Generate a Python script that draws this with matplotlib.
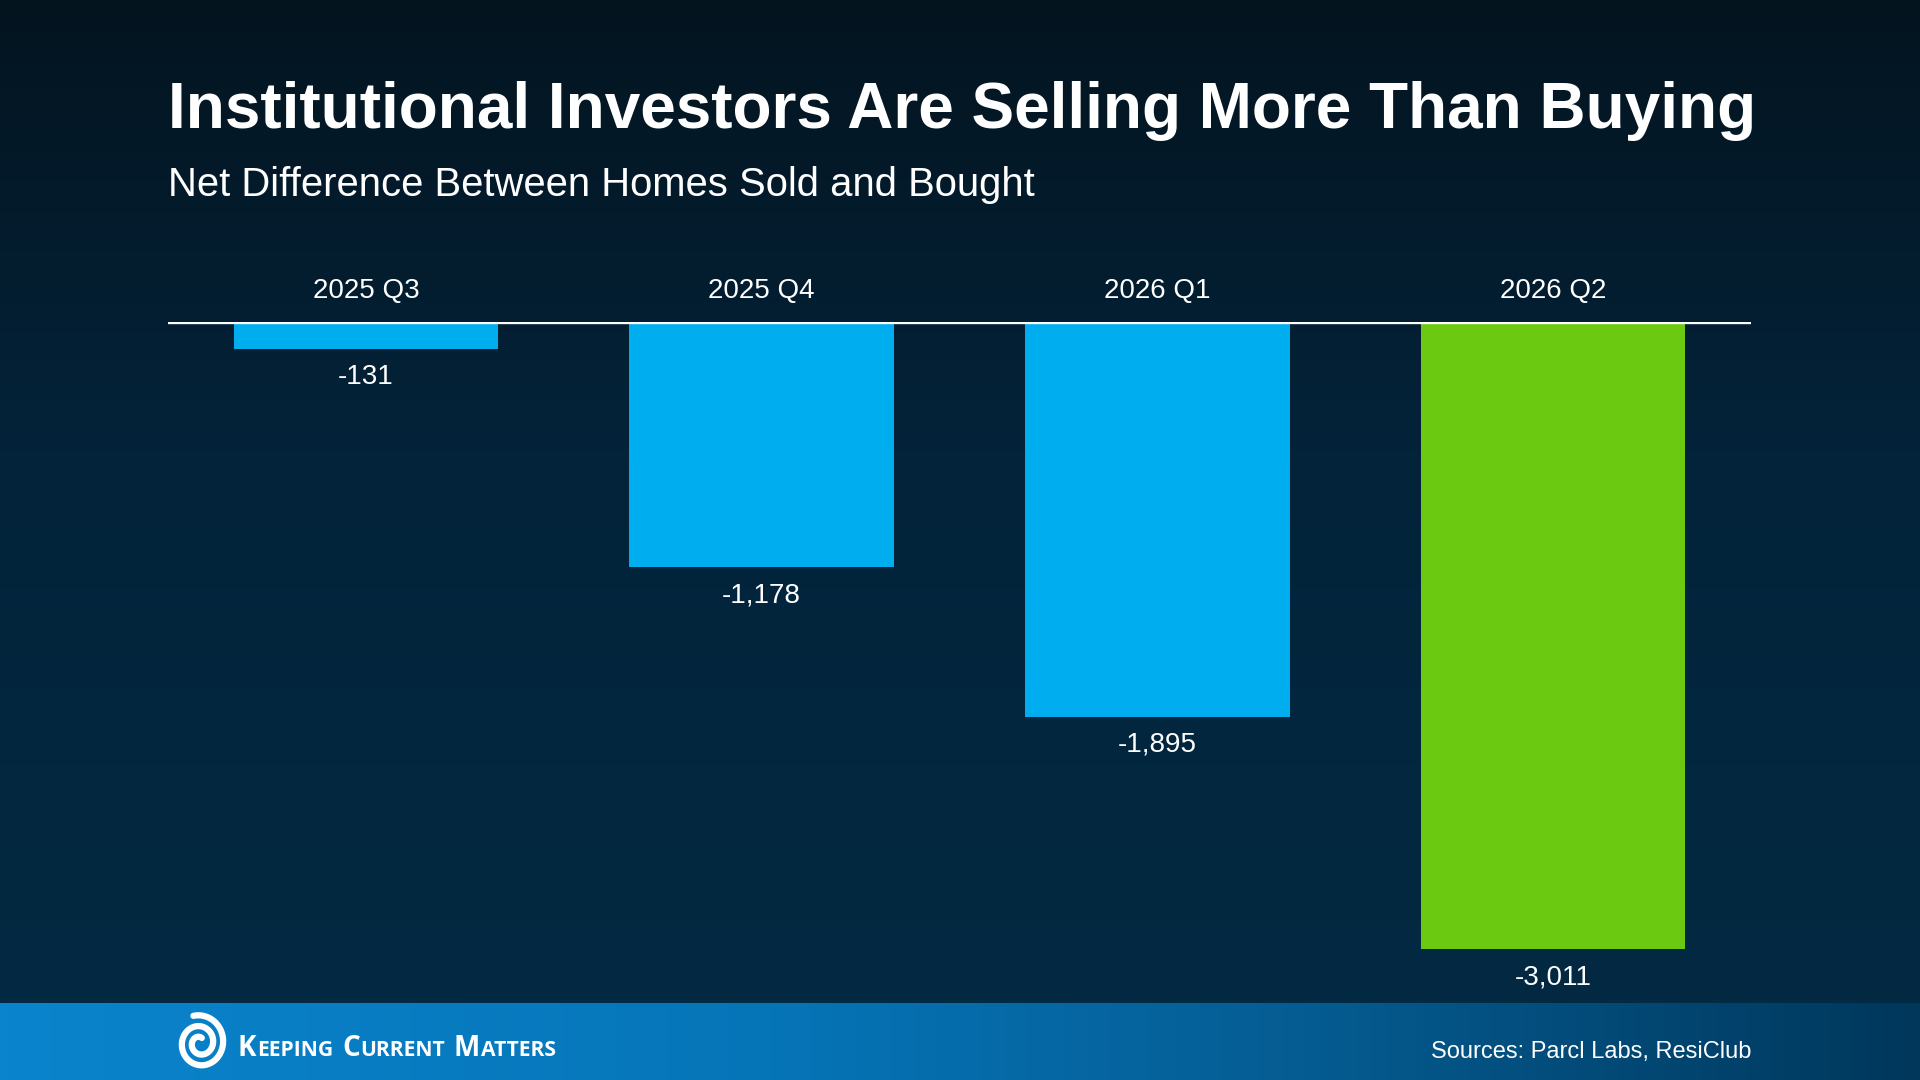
import numpy as np
import matplotlib.pyplot as plt
from matplotlib.colors import LinearSegmentedColormap

quarters = ["2025 Q3", "2025 Q4", "2026 Q1", "2026 Q2"]
net_homes = [-131, -1178, -1895, -3011]
bar_colors = ["#00aeef", "#00aeef", "#00aeef", "#6cc911"]

title = "Institutional Investors Are Selling More Than Buying"
subtitle = "Net Difference Between Homes Sold and Bought"
source = "Sources: Parcl Labs, ResiClub"
brand = [("K", "EEPING"), ("C", "URRENT"), ("M", "ATTERS")]

W, H = 1920, 1080
fig = plt.figure(figsize=(19.2, 10.8), dpi=100)
plt.rcParams["font.family"] = ["Liberation Sans", "DejaVu Sans"]

# background, pixel coordinates (y down)
bg = fig.add_axes([0, 0, 1, 1])
bg.set_xlim(0, W)
bg.set_ylim(H, 0)
bg.axis("off")

main_cmap = LinearSegmentedColormap.from_list(
    "main", [(0, "#04141f"), (0.45, "#03233a"), (1, "#022a42")])
grad = np.linspace(0, 1, 256).reshape(-1, 1)
bg.imshow(grad, cmap=main_cmap, aspect="auto", extent=(0, W, 1003, 0), zorder=0)

foot_cmap = LinearSegmentedColormap.from_list(
    "foot", [(0, "#0a84cc"), (0.4, "#0675b8"), (0.68, "#055c92"), (1, "#00375b")])
fgrad = np.linspace(0, 1, 256).reshape(1, -1)
bg.imshow(fgrad, cmap=foot_cmap, aspect="auto", extent=(0, W, H, 1003), zorder=0)

bg.text(168, 128, title, fontsize=46, fontweight="bold", color="white", va="baseline")
bg.text(168, 196, subtitle, fontsize=28.8, color="white", va="baseline")
bg.text(1751, 1052, source, fontsize=17, color="white", ha="right", va="center")

# logo swirl
t = np.linspace(0, 4.2 * np.pi, 400)
r = 5 + 21 * t / t.max()
bg.plot(200 + r * np.cos(t + 1.2), 1043 - r * 1.08 * np.sin(t + 1.2),
        color="white", lw=4.5, solid_capstyle="round", zorder=3)

# logo text in small caps, fitted to its width in the reference
fig.canvas.draw()
renderer = fig.canvas.get_renderer()


def draw_brand(scale):
    items = []
    x = 238
    for big, small in brand:
        for txt, size in ((big, 25), (small, 19)):
            tt = bg.text(x, 1056, txt, fontsize=size * scale, color="white",
                         fontweight="bold", family=["Open Sans", "DejaVu Sans"],
                         va="baseline")
            items.append(tt)
            x += tt.get_window_extent(renderer).width + 1
        x += 9 * scale
    return items, x - 9 * scale - 238


items, width = draw_brand(1.0)
for tt in items:
    tt.remove()
draw_brand(319 / width)

# chart axes
ax = fig.add_axes([168 / W, 1 - 1009 / H, (1751 - 168) / W, (1009 - 322) / H])
ax.set_facecolor("none")
ax.set_xlim(-0.5, len(quarters) - 0.5)
ax.set_ylim(-3011 * 687 / 627, 0)
ax.axis("off")

xs = np.arange(len(quarters))
ax.bar(xs, net_homes, width=0.668, color=bar_colors, align="center", zorder=2)
ax.axhline(0, color="white", lw=2.4, zorder=3)

for xi, q, v in zip(xs, quarters, net_homes):
    ax.annotate(q, (xi, 0), xytext=(0, 31), textcoords="offset pixels",
                ha="center", va="center", fontsize=20, color="white")
    ax.annotate(f"{v:,}", (xi, v), xytext=(0, -28), textcoords="offset pixels",
                ha="center", va="center", fontsize=20, color="white",
                annotation_clip=False)

fig.savefig("out.png", dpi=100)
